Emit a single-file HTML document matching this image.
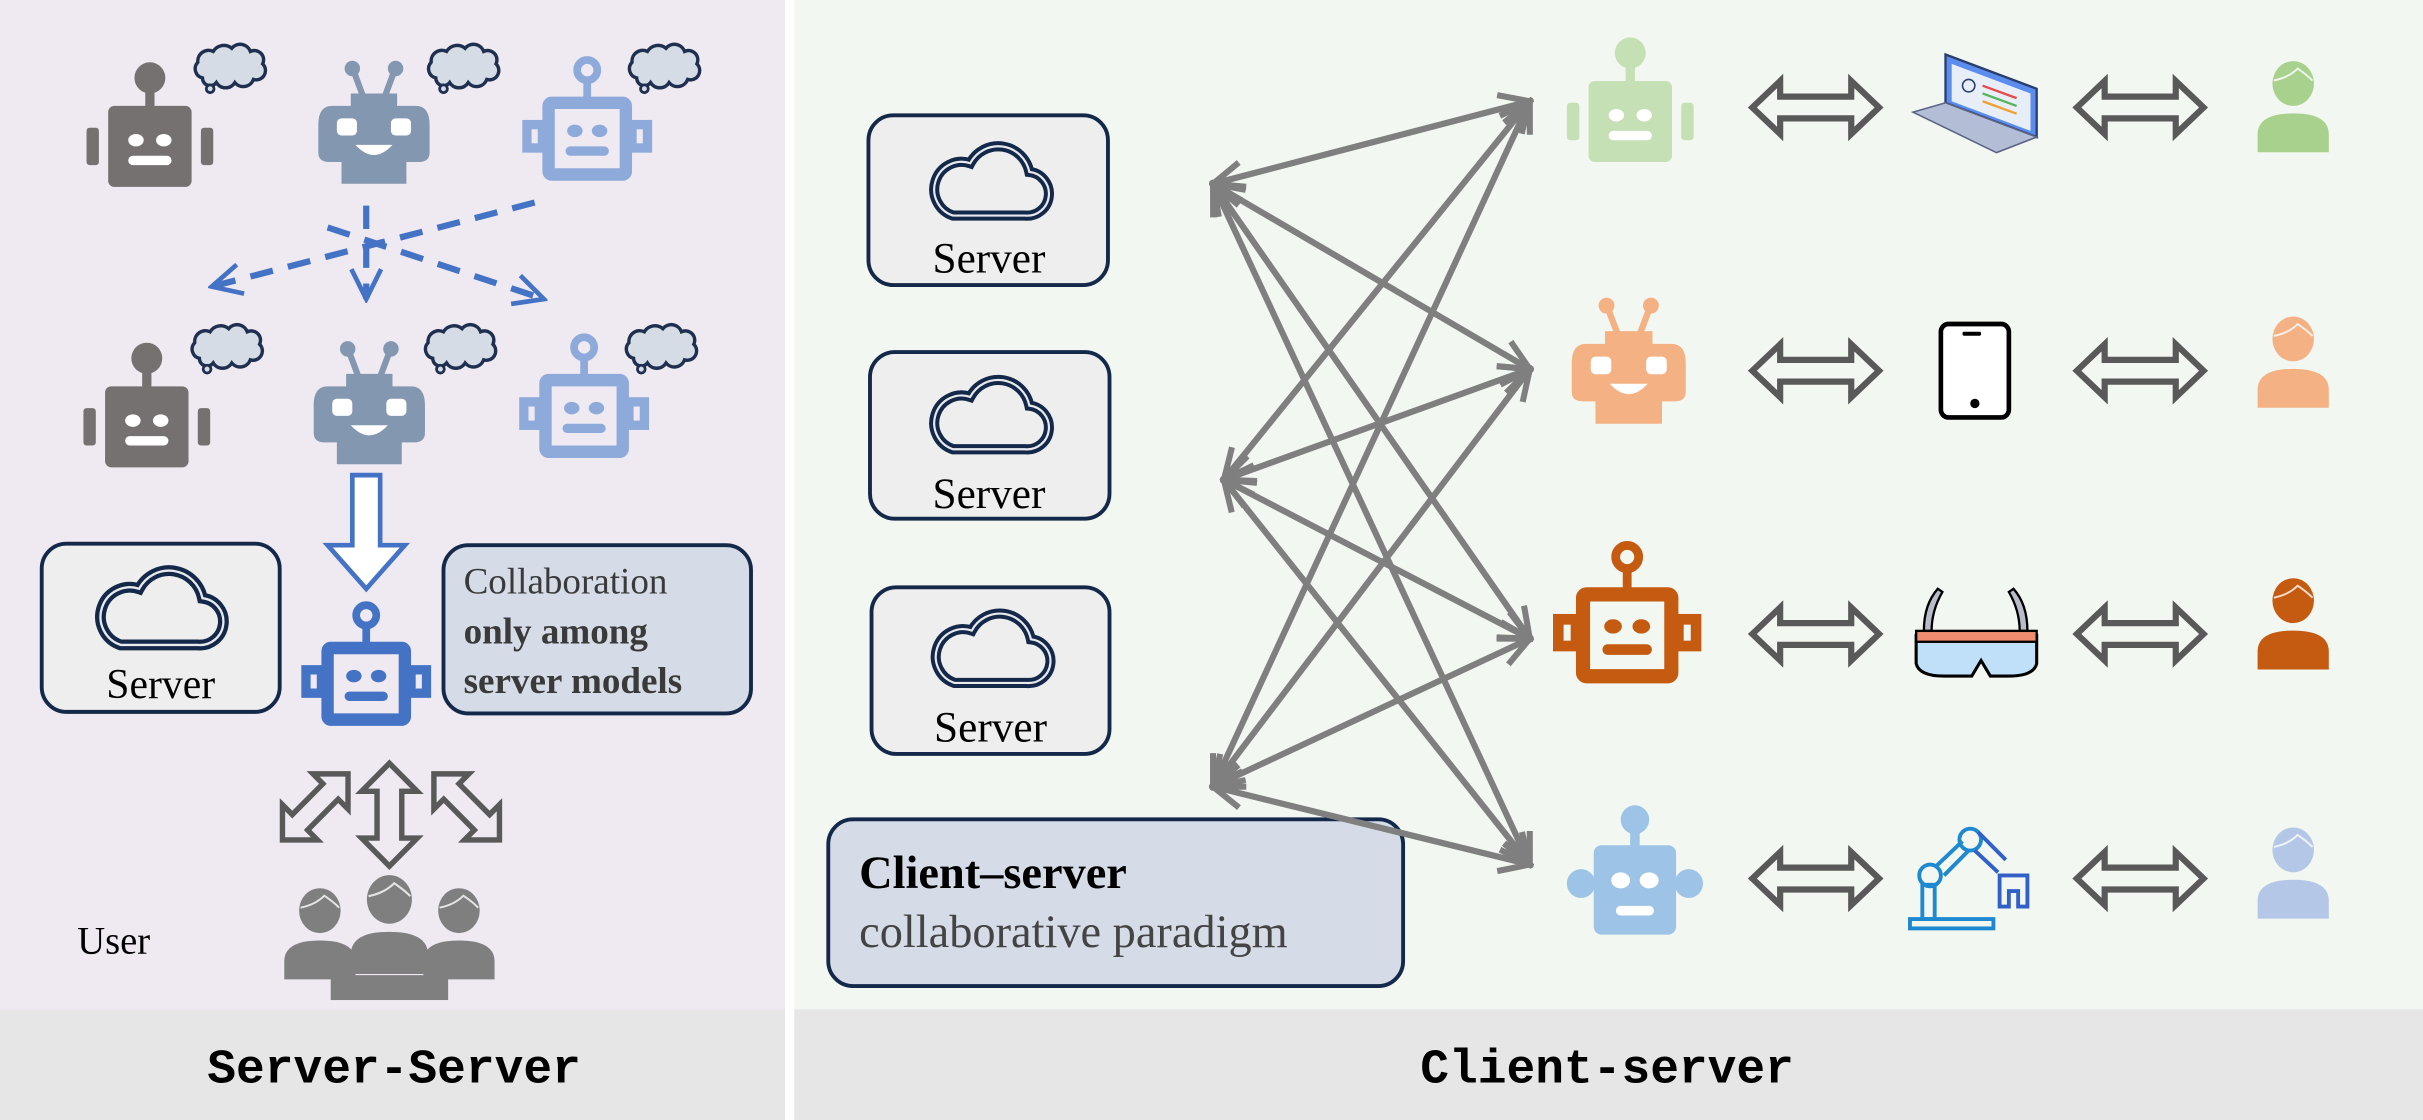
<!DOCTYPE html>
<html><head><meta charset="utf-8"><style>
html,body{margin:0;padding:0;width:2423px;height:1120px;overflow:hidden;background:#fff}
svg{display:block}
</style></head><body>
<svg width="2423" height="1120" viewBox="0 0 1568 719" preserveAspectRatio="none" xmlns="http://www.w3.org/2000/svg">
<defs>
<symbol id="rA" viewBox="0 0 84 80" overflow="visible">
<circle cx="42" cy="10" r="10" fill="currentColor"/>
<rect x="39" y="18" width="6" height="12" fill="currentColor"/>
<rect x="15" y="28" width="54" height="52" rx="4" fill="currentColor"/>
<rect x="1" y="42" width="8" height="24" rx="2" fill="currentColor"/>
<rect x="75" y="42" width="8" height="24" rx="2" fill="currentColor"/>
<ellipse cx="33" cy="50" rx="5" ry="4" fill="#fff"/>
<ellipse cx="51" cy="50" rx="5" ry="4" fill="#fff"/>
<rect x="28" y="60" width="28" height="6" rx="3" fill="#fff"/>
</symbol>
<symbol id="rD" viewBox="0 0 84 80" overflow="visible">
<circle cx="42" cy="8" r="9" fill="currentColor"/>
<rect x="39" y="15" width="6" height="12" fill="currentColor"/>
<rect x="16" y="24" width="52" height="56" rx="5" fill="currentColor"/>
<circle cx="8" cy="48" r="9" fill="currentColor"/>
<circle cx="76" cy="48" r="9" fill="currentColor"/>
<ellipse cx="33" cy="46" rx="6" ry="5" fill="#fff"/>
<ellipse cx="51" cy="46" rx="6" ry="5" fill="#fff"/>
<rect x="30" y="62" width="24" height="6" rx="3" fill="#fff"/>
</symbol>
<symbol id="rB" viewBox="0 0 74 80" overflow="visible">
<line x1="30" y1="24" x2="24" y2="8" stroke="currentColor" stroke-width="4"/>
<line x1="44" y1="24" x2="50" y2="8" stroke="currentColor" stroke-width="4"/>
<circle cx="23" cy="6" r="5" fill="currentColor"/><circle cx="51" cy="6" r="5" fill="currentColor"/>
<path d="M22,22 H52 V30 H64 Q73,30 73,42 V60 Q73,66 66,66 H58 V80 H16 V66 H8 Q1,66 1,60 V42 Q1,30 10,30 H22 Z" fill="currentColor"/>
<rect x="13" y="38" width="13" height="11" rx="3" fill="#fff"/>
<rect x="48" y="38" width="13" height="11" rx="3" fill="#fff"/>
<path d="M25,55 Q37,68 49,55 Z" fill="#fff"/>
</symbol>
<symbol id="rC" viewBox="0 0 84 80" overflow="visible">
<circle cx="42" cy="9" r="6.5" fill="none" stroke="currentColor" stroke-width="5"/>
<rect x="39.5" y="15" width="5" height="12" fill="currentColor"/>
<rect x="17" y="30" width="50" height="46" fill="none" stroke="currentColor" stroke-width="8" rx="2"/>
<rect x="3" y="44" width="10" height="15" fill="none" stroke="currentColor" stroke-width="6"/>
<rect x="71" y="44" width="10" height="15" fill="none" stroke="currentColor" stroke-width="6"/>
<ellipse cx="34" cy="48" rx="5" ry="4" fill="currentColor"/>
<ellipse cx="50" cy="48" rx="5" ry="4" fill="currentColor"/>
<rect x="28" y="58" width="28" height="6" rx="3" fill="currentColor"/>
</symbol>
<symbol id="bub" viewBox="0 0 50 34" overflow="visible">
<path d="M8,22 A6,6 0 0 1 5,12 A7,7 0 0 1 15,5 A8,8 0 0 1 27,3 A7,7 0 0 1 39,5 A6,6 0 0 1 47,13 A6,6 0 0 1 41,23 A7,7 0 0 1 29,25 A7,7 0 0 1 17,25 A5,5 0 0 1 8,22 Z" fill="#d6dce5" stroke="#1f2f4f" stroke-width="2.2"/>
<circle cx="13" cy="29" r="2.5" fill="#d6dce5" stroke="#1f2f4f" stroke-width="1.8"/>
</symbol>
<symbol id="cloud" viewBox="0 0 90 60" overflow="visible">
<path d="M20,54 H70 A15,15 0 0 0 73,24 A22,22 0 0 0 32,18 A18,18 0 0 0 20,54 Z" fill="none" stroke="#14284a" stroke-width="7"/>
<path d="M20,54 H70 A15,15 0 0 0 73,24 A22,22 0 0 0 32,18 A18,18 0 0 0 20,54 Z" fill="none" stroke="#e8eaee" stroke-width="1.5"/>
</symbol>
<symbol id="dbl" viewBox="0 0 86 40" overflow="visible">
<path d="M2,20 L20,3 L20,13 L66,13 L66,3 L84,20 L66,37 L66,27 L20,27 L20,37 Z" fill="none" stroke="#595959" stroke-width="4" stroke-linejoin="miter"/>
</symbol>
<symbol id="per" viewBox="0 0 50 62" overflow="visible">
<ellipse cx="25" cy="16" rx="14" ry="15" fill="currentColor"/>
<path d="M1,62 V50 Q1,36 25,36 Q49,36 49,50 V62 Z" fill="currentColor"/>
<path d="M12,14 Q22,12 28,6 Q34,10 38,14" fill="none" stroke="#fff" stroke-width="1.3" opacity="0.8"/>
</symbol>
<marker id="ah" viewBox="0 0 20 20" refX="18" refY="10" markerWidth="26" markerHeight="26" orient="auto-start-reverse" markerUnits="userSpaceOnUse">
<path d="M3,3 L18,10 L3,17" fill="none" stroke="#7f7f7f" stroke-width="3"/>
</marker>
<marker id="ab" viewBox="0 0 20 20" refX="18" refY="10" markerWidth="24" markerHeight="24" orient="auto" markerUnits="userSpaceOnUse">
<path d="M2,2 L18,10 L2,18" fill="none" stroke="#4472c4" stroke-width="2.5"/>
</marker>
</defs>

<rect x="0" y="0" width="508" height="648" fill="#efe9f1"/>
<rect x="514" y="0" width="1054" height="648" fill="#f3f7f1"/>
<rect x="0" y="648" width="508" height="71" fill="#e6e6e6"/>
<rect x="514" y="648" width="1054" height="71" fill="#e6e6e6"/>
<text x="255" y="695" text-anchor="middle" font-family="Liberation Mono, monospace" font-weight="bold" font-size="31" fill="#000">Server-Server</text>
<text x="1040" y="695" text-anchor="middle" font-family="Liberation Mono, monospace" font-weight="bold" font-size="31" fill="#000">Client-server</text>

<use href="#rA" x="55" y="40" width="84" height="80" color="#767171"/>
<use href="#bub" x="123" y="28" width="50" height="34"/>
<use href="#rB" x="205" y="38" width="74" height="80" color="#8497b0"/>
<use href="#bub" x="274" y="28" width="50" height="34"/>
<use href="#rC" x="338" y="36" width="84" height="80" color="#8eaadb"/>
<use href="#bub" x="404" y="28" width="50" height="34"/>

<g stroke="#4472c4" stroke-width="4" stroke-dasharray="15,10" fill="none">
<line x1="212" y1="146" x2="352" y2="192" marker-end="url(#ab)"/>
<line x1="346" y1="130" x2="137" y2="184" marker-end="url(#ab)"/>
<line x1="237" y1="132" x2="237" y2="192" marker-end="url(#ab)"/>
</g>

<use href="#rA" x="53" y="220" width="84" height="80" color="#767171"/>
<use href="#bub" x="121" y="208" width="50" height="34"/>
<use href="#rB" x="202" y="218" width="74" height="80" color="#8497b0"/>
<use href="#bub" x="272" y="208" width="50" height="34"/>
<use href="#rC" x="336" y="214" width="84" height="80" color="#8eaadb"/>
<use href="#bub" x="402" y="208" width="50" height="34"/>

<path d="M228,305 H246 V350 H262 L237,378 L212,350 H228 Z" fill="#fff" stroke="#4472c4" stroke-width="3"/>

<rect x="27" y="349" width="154" height="108" rx="16" fill="#eeeeee" stroke="#14284a" stroke-width="2.5"/>
<use href="#cloud" x="58" y="360" width="90" height="60"/>
<text x="104" y="448" text-anchor="middle" font-family="Liberation Serif, serif" font-size="27" fill="#000">Server</text>

<use href="#rC" x="195" y="385" width="84" height="82" color="#4472c4"/>

<rect x="287" y="350" width="199" height="108" rx="16" fill="#d5dce7" stroke="#14284a" stroke-width="2.5"/>
<g font-family="Liberation Serif, serif" font-size="24" fill="#3a3a3a">
<text x="300" y="381">Collaboration</text>
<text x="300" y="413" font-weight="bold">only among</text>
<text x="300" y="445" font-weight="bold">server models</text>
</g>

<g fill="none" stroke="#595959" stroke-width="3.5">
<path d="M252,490 L270,508 H260 V538 H270 L252,556 L234,538 H244 V508 H234 Z"/>
<path transform="rotate(45 204 518)" d="M204,488 L220,504 H211 V532 H220 L204,548 L188,532 H197 V504 H188 Z"/>
<path transform="rotate(-45 302 518)" d="M302,488 L318,504 H309 V532 H318 L302,548 L286,532 H295 V504 H286 Z"/>
</g>
<use href="#per" x="273" y="568" width="48" height="62" color="#7f7f7f"/>
<use href="#per" x="183" y="568" width="48" height="62" color="#7f7f7f"/>
<use href="#per" x="226" y="560" width="52" height="66" color="#7f7f7f"/>
<rect x="214" y="626" width="76" height="16" fill="#7f7f7f"/>
<text x="50" y="612" font-family="Liberation Serif, serif" font-size="25" fill="#000">User</text>

<rect x="562" y="74" width="155" height="109" rx="16" fill="#eeeeee" stroke="#14284a" stroke-width="2.5"/>
<use href="#cloud" x="598" y="82" width="84" height="68"/>
<text x="640" y="175" text-anchor="middle" font-family="Liberation Serif, serif" font-size="28" fill="#000">Server</text>
<rect x="563" y="226" width="155" height="107" rx="16" fill="#eeeeee" stroke="#14284a" stroke-width="2.5"/>
<use href="#cloud" x="598" y="232" width="84" height="68"/>
<text x="640" y="326" text-anchor="middle" font-family="Liberation Serif, serif" font-size="28" fill="#000">Server</text>
<rect x="564" y="377" width="154" height="107" rx="16" fill="#eeeeee" stroke="#14284a" stroke-width="2.5"/>
<use href="#cloud" x="599" y="382" width="84" height="68"/>
<text x="641" y="476" text-anchor="middle" font-family="Liberation Serif, serif" font-size="28" fill="#000">Server</text>

<rect x="536" y="526" width="372" height="107" rx="16" fill="#d5dce7" stroke="#14284a" stroke-width="2.5"/>
<text x="556" y="570" font-family="Liberation Serif, serif" font-weight="bold" font-size="30" fill="#000">Client–server</text>
<text x="556" y="608" font-family="Liberation Serif, serif" font-size="30" fill="#444">collaborative  paradigm</text>

<g stroke="#7f7f7f" stroke-width="4" marker-start="url(#ah)" marker-end="url(#ah)" fill="none">
<line x1="785" y1="118" x2="990" y2="65"/>
<line x1="785" y1="118" x2="990" y2="237"/>
<line x1="785" y1="118" x2="990" y2="410"/>
<line x1="785" y1="118" x2="990" y2="555"/>
<line x1="792" y1="308" x2="990" y2="65"/>
<line x1="792" y1="308" x2="990" y2="237"/>
<line x1="792" y1="308" x2="990" y2="410"/>
<line x1="792" y1="308" x2="990" y2="555"/>
<line x1="785" y1="505" x2="990" y2="65"/>
<line x1="785" y1="505" x2="990" y2="237"/>
<line x1="785" y1="505" x2="990" y2="410"/>
<line x1="785" y1="505" x2="990" y2="555"/>
</g>

<use href="#rA" x="1013" y="24" width="84" height="80" color="#c5e0b4"/>
<use href="#rB" x="1016" y="190" width="76" height="82" color="#f4b183"/>
<use href="#rC" x="1005" y="346" width="96" height="94" color="#c55a11"/>
<use href="#rD" x="1010" y="518" width="96" height="82" color="#9dc3e6"/>

<use href="#dbl" x="1132" y="49" width="86" height="40"/>
<use href="#dbl" x="1132" y="218" width="86" height="40"/>
<use href="#dbl" x="1132" y="387" width="86" height="40"/>
<use href="#dbl" x="1132" y="544" width="86" height="40"/>
<use href="#dbl" x="1342" y="49" width="86" height="40"/>
<use href="#dbl" x="1342" y="218" width="86" height="40"/>
<use href="#dbl" x="1342" y="387" width="86" height="40"/>
<use href="#dbl" x="1342" y="544" width="86" height="40"/>

<path d="M1259,35 L1318,57 L1318,88 L1259,66 Z" fill="#5b8def" stroke="#2b3d6b" stroke-width="1.5"/>
<path d="M1263,41 L1314,60 L1314,84 L1263,65 Z" fill="#e8eef8"/>
<path d="M1238,72 L1259,66 L1318,88 L1292,98 Z" fill="#b4bdd6" stroke="#5a6383" stroke-width="1"/>
<circle cx="1274" cy="55" r="4" fill="none" stroke="#2b3d6b" stroke-width="1"/>
<g stroke-width="1.5"><line x1="1283" y1="55" x2="1305" y2="63" stroke="#e64a4a"/><line x1="1283" y1="60" x2="1305" y2="68" stroke="#55b55a"/><line x1="1283" y1="65" x2="1305" y2="73" stroke="#f0a030"/></g>
<rect x="1256" y="208" width="44" height="60" rx="5" fill="#fff" stroke="#000" stroke-width="3"/>
<circle cx="1278" cy="259" r="3" fill="#000"/><rect x="1270" y="213" width="12" height="2.5" rx="1" fill="#000"/>
<path d="M1245,405 Q1245,388 1254,378 L1257,380 Q1250,392 1250,405 Z" fill="#b8bcc8" stroke="#000" stroke-width="1.5"/>
<path d="M1312,405 Q1312,388 1303,378 L1300,380 Q1307,392 1307,405 Z" fill="#b8bcc8" stroke="#000" stroke-width="1.5"/>
<path d="M1240,408 H1318 V426 Q1316,434 1300,434 H1288 L1282,424 L1276,434 H1258 Q1242,434 1240,426 Z" fill="#bfe0f8" stroke="#000" stroke-width="2"/>
<rect x="1240" y="405" width="78" height="7" fill="#f08c70" stroke="#000" stroke-width="1.5"/>
<g fill="none" stroke="#1e88d0" stroke-width="2.5">
<rect x="1236" y="590" width="54" height="6"/>
<rect x="1244" y="568" width="8" height="22"/>
<circle cx="1249" cy="562" r="7"/>
<path d="M1253,556 L1270,540 M1258,562 L1274,546"/>
<circle cx="1275" cy="539" r="7"/>
<path stroke="#3060c8" d="M1280,534 L1298,552 M1278,546 L1293,560"/>
<path stroke="#3060c8" d="M1294,562 V582 H1300 V572 H1306 V582 H1312 V562 Z"/>
</g>

<use href="#per" x="1460" y="38" width="48" height="60" color="#a9d18e"/>
<use href="#per" x="1460" y="202" width="48" height="60" color="#f4b183"/>
<use href="#per" x="1460" y="370" width="48" height="60" color="#c55a11"/>
<use href="#per" x="1460" y="530" width="48" height="60" color="#b4c7e7"/>
</svg>
</body></html>
